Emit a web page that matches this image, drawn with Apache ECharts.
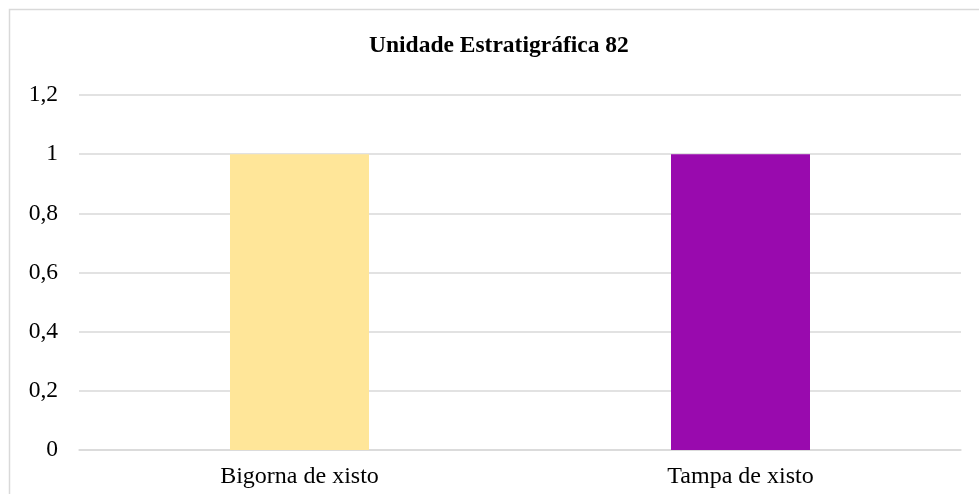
<!DOCTYPE html>
<html>
<head>
<meta charset="utf-8">
<script src="https://cdn.jsdelivr.net/npm/echarts@6/dist/echarts.min.js"></script>
<style>html,body{margin:0;padding:0;background:#fff;}#c{width:979px;height:494px;}</style>
</head>
<body>
<div id="c"></div>
<script>
const categories = ['Bigorna de xisto', 'Tampa de xisto'];
const values = [1, 1];
const barColors = ['#FFE699', '#990AAE'];
const titleText = 'Unidade Estratigráfica 82';

const chart = echarts.init(document.getElementById('c'), null, {renderer: 'canvas'});
chart.setOption({
  animation: false,
  backgroundColor: '#fff',
  title: {
    text: titleText,
    left: 369,
    top: 34,
    padding: 0,
    textStyle: {fontFamily: 'Liberation Serif', fontWeight: 'bold', fontSize: 23.5, color: '#000'}
  },
  graphic: [{
    type: 'rect',
    shape: {x: 9.5, y: 9.5, width: 1000, height: 1000},
    style: {fill: null, stroke: '#D9D9D9', lineWidth: 1.5},
    silent: true
  }],
  grid: {left: 79, right: 18, top: 95, bottom: 44},
  xAxis: {
    type: 'category',
    data: categories,
    axisLine: {show: true, lineStyle: {color: '#D9D9D9', width: 1.5}},
    axisTick: {show: false},
    axisLabel: {fontFamily: 'Liberation Serif', fontSize: 24, color: '#000', margin: 15}
  },
  yAxis: {
    type: 'value',
    min: 0, max: 1.2, interval: 0.2,
    axisLine: {show: false},
    axisTick: {show: false},
    splitLine: {lineStyle: {color: '#D9D9D9', width: 1.5}},
    axisLabel: {
      fontFamily: 'Liberation Serif', fontSize: 23.5, color: '#000', margin: 21,
      formatter: v => String(Math.round(v * 10) / 10).replace('.', ',')
    }
  },
  series: [{
    type: 'bar',
    data: values.map((v, i) => ({value: v, itemStyle: {color: barColors[i]}})),
    barWidth: 139
  }]
});
</script>
</body>
</html>
